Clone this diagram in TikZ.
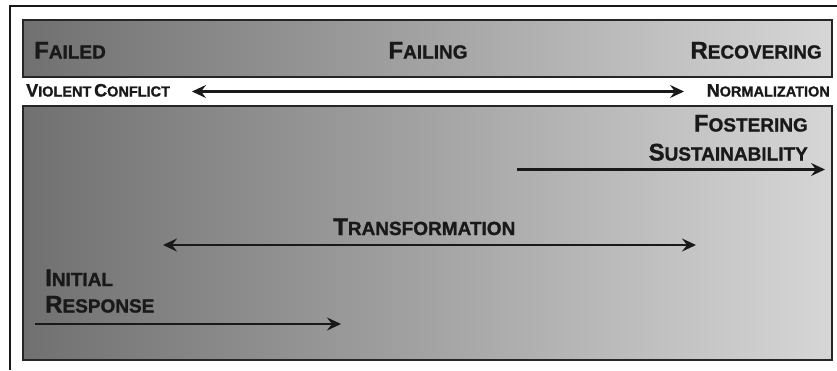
\documentclass[tikz,border=0pt]{standalone}
\usepackage{fontspec}
\setmainfont{Liberation Sans}[BoldFeatures={FakeBold=1.2}]
\usetikzlibrary{arrows.meta}

\definecolor{boxdark}{gray}{0.44}
\definecolor{boxlight}{gray}{0.84}

\newcommand{\bigsc}[2]{\textbf{{\fontsize{24}{26}\selectfont #1}{\fontsize{19}{26}\selectfont #2}}}
\newcommand{\smallsc}[2]{\textbf{{\fontsize{18}{20}\selectfont #1}{\fontsize{14.5}{20}\selectfont #2}}}

\tikzset{
  phasebox/.style={draw=black!85, line width=2.2pt, left color=boxdark, right color=boxlight},
  phaselabel/.style={inner sep=0pt, text=black!90},
  timeline/.style={line width=2.6pt, black!90, -{Stealth[length=14pt,width=13pt,inset=5pt]}},
  bothways/.style={timeline, {Stealth[length=14pt,width=13pt,inset=5pt]}-{Stealth[length=14pt,width=13pt,inset=5pt]}}
}

\begin{document}
\begin{tikzpicture}[x=1pt,y=-1pt]
\useasboundingbox (0,0) rectangle (837,370);
% Frame
\draw[line width=2.6pt, black!90] (10,370) -- (10,6) -- (837,6);

% Boxes
\path[phasebox] (23,20) rectangle (832,77);
\path[phasebox] (23,106) rectangle (832,360);

% State labels
\node[phaselabel, anchor=base west] (failed) at (34,58.5) {\bigsc{F}{AILED}};
\node[phaselabel, anchor=base] (failing) at (428,58.5) {\bigsc{F}{AILING}};
\node[phaselabel, anchor=base east] (recovering) at (822,58.5) {\bigsc{R}{ECOVERING}};

% Conflict scale
\node[phaselabel, anchor=base west] (violent) at (26,96.5) {\smallsc{V}{IOLENT} \smallsc{C}{ONFLICT}};
\node[phaselabel, anchor=base east] (normal) at (830,96.5) {\smallsc{N}{ORMALIZATION}};
\coordinate (scaleL) at (192,91.5);
\coordinate (scaleR) at (684,91.5);
\draw[bothways] (scaleL) -- (scaleR);

% Phases
\node[phaselabel, anchor=base east] (fostering) at (808,131.5) {\bigsc{F}{OSTERING}};
\node[phaselabel, anchor=base east] (sustain) at (808,160.5) {\bigsc{S}{USTAINABILITY}};
\coordinate (fosterL) at (517,169.5);
\coordinate (fosterR) at (825,169.5);
\draw[timeline] (fosterL) -- (fosterR);

\node[phaselabel, anchor=base west] (transform) at (333,235) {\bigsc{T}{RANSFORMATION}};
\coordinate (transL) at (163,245);
\coordinate (transR) at (696,245);
\draw[bothways] (transL) -- (transR);

\node[phaselabel, anchor=base west] (initial) at (45,286) {\bigsc{I}{NITIAL}};
\node[phaselabel, anchor=base west] (response) at (45,312.5) {\bigsc{R}{ESPONSE}};
\coordinate (initL) at (35,324);
\coordinate (initR) at (341,324);
\draw[timeline] (initL) -- (initR);
\end{tikzpicture}
\end{document}
